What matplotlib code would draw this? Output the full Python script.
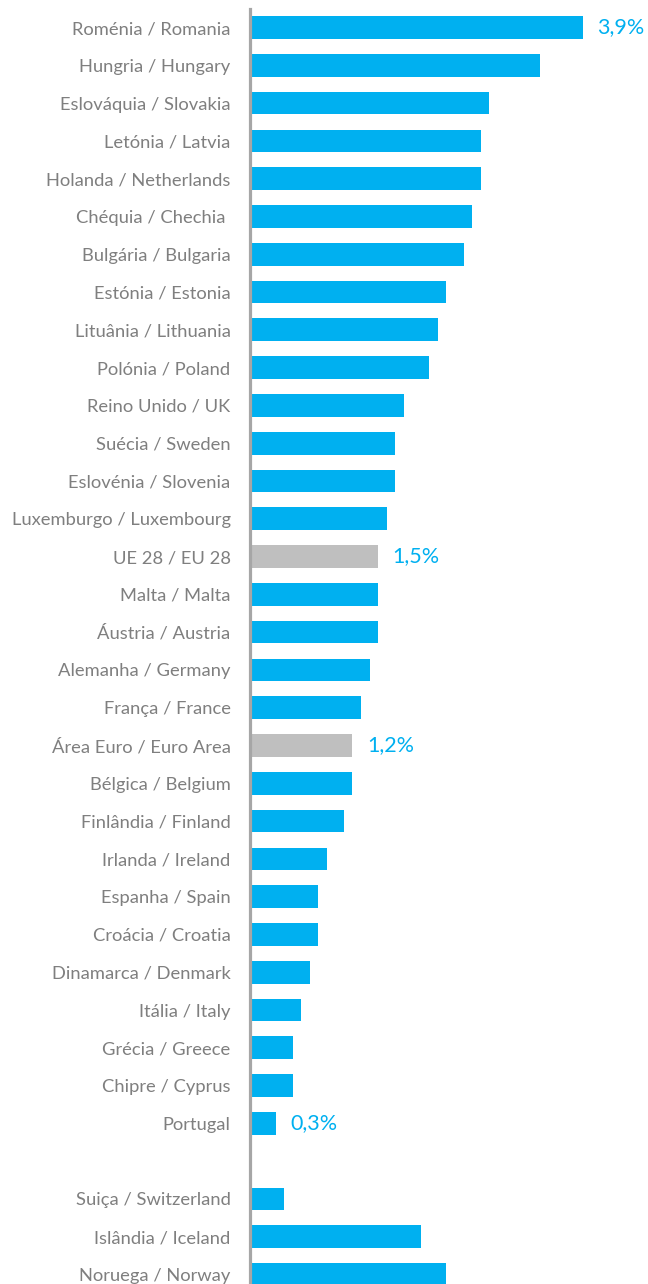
import matplotlib.pyplot as plt

# Dados (%), por país
paises = ['Roménia / Romania', 'Hungria / Hungary', 'Eslováquia / Slovakia',
          'Letónia / Latvia', 'Holanda / Netherlands', 'Chéquia / Chechia ',
          'Bulgária / Bulgaria', 'Estónia / Estonia', 'Lituânia / Lithuania',
          'Polónia / Poland', 'Reino Unido / UK', 'Suécia / Sweden',
          'Eslovénia / Slovenia', 'Luxemburgo / Luxembourg', 'UE 28 / EU 28',
          'Malta / Malta', 'Áustria / Austria', 'Alemanha / Germany',
          'França / France', 'Área Euro / Euro Area', 'Bélgica / Belgium',
          'Finlândia / Finland', 'Irlanda / Ireland', 'Espanha / Spain',
          'Croácia / Croatia', 'Dinamarca / Denmark', 'Itália / Italy',
          'Grécia / Greece', 'Chipre / Cyprus', 'Portugal']
valores = [3.9, 3.4, 2.8, 2.7, 2.7, 2.6, 2.5, 2.3, 2.2, 2.1, 1.8, 1.7, 1.7,
           1.6, 1.5, 1.5, 1.5, 1.4, 1.3, 1.2, 1.2, 1.1, 0.9, 0.8, 0.8, 0.7,
           0.6, 0.5, 0.5, 0.3]

outros = ['Suiça / Switzerland', 'Islândia / Iceland', 'Noruega / Norway']
valores_outros = [0.4, 2.0, 2.3]

agregados = ['UE 28 / EU 28', 'Área Euro / Euro Area']
com_rotulo = ['Roménia / Romania', 'UE 28 / EU 28', 'Área Euro / Euro Area', 'Portugal']

azul = '#00b0f0'
cinza = '#bfbfbf'
cor_texto = '#7f7f7f'

nomes = paises + outros
vals = valores + valores_outros
pos = list(range(len(paises))) + [len(paises) + 1 + i for i in range(len(outros))]
cores = [cinza if n in agregados else azul for n in nomes]

fig = plt.figure(figsize=(6.48, 12.84), dpi=100)
ax = fig.add_axes([250 / 648, 0, 398 / 648, 1 - 9 / 1284])

ax.barh(pos, vals, height=0.6, color=cores)

for n, v, p in zip(nomes, vals, pos):
    if n in com_rotulo:
        ax.text(v + 0.17, p, ('%.1f%%' % v).replace('.', ','), va='center',
                ha='left', color=azul, fontsize=15.5, family='Lato')

ax.set_xlim(0, 398 / 85.4)
ax.set_ylim(33.25, -0.49)
ax.set_yticks(pos)
ax.set_yticklabels(nomes, fontsize=13.2, color=cor_texto, family='Lato')
ax.tick_params(axis='y', length=0, pad=14)
ax.set_xticks([])

for s in ['top', 'right', 'bottom']:
    ax.spines[s].set_visible(False)
ax.spines['left'].set_color('#a6a6a6')
ax.spines['left'].set_linewidth(2.3)

fig.savefig('out.png', dpi=100)
